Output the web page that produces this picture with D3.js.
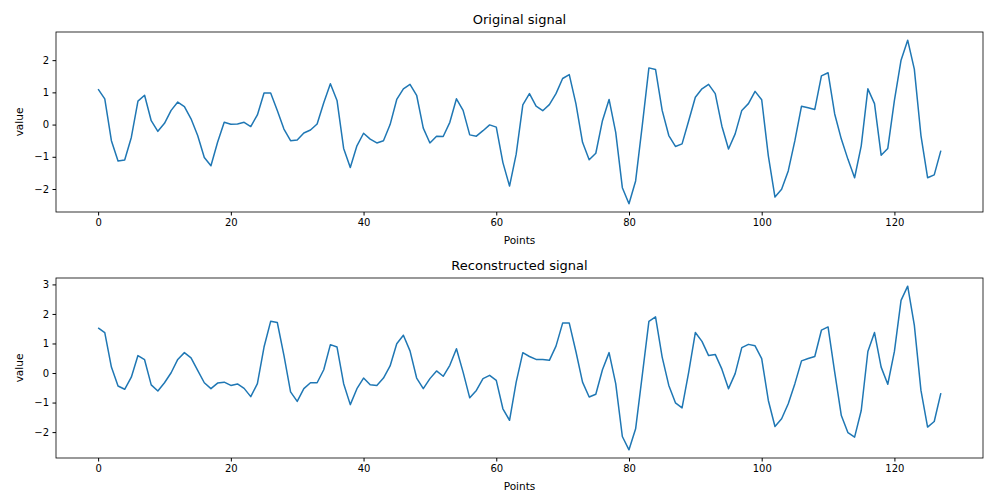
<!DOCTYPE html>
<html>
<head>
<meta charset="utf-8">
<script src="https://cdn.jsdelivr.net/npm/d3@7"></script>
<style>
  body { margin: 0; background: #fff; }
  svg { display: block; font-family: "DejaVu Sans", sans-serif; }
</style>
</head>
<body>
<div id="chart"></div>
<script>
// Values
const original = [
  1.10, 0.80, -0.50, -1.13, -1.10, -0.40, 0.73, 0.91, 0.12, -0.21,
  0.04, 0.44, 0.70, 0.56, 0.18, -0.34, -1.02, -1.28, -0.55, 0.07,
  0.01, 0.02, 0.07, -0.06, 0.30, 0.98, 0.98, 0.44, -0.14, -0.50,
  -0.48, -0.26, -0.17, 0.02, 0.68, 1.27, 0.75, -0.74, -1.33, -0.66,
  -0.27, -0.45, -0.57, -0.50, 0.00, 0.78, 1.11, 1.25, 0.91, -0.11,
  -0.57, -0.36, -0.37, 0.07, 0.80, 0.44, -0.32, -0.36, -0.19, -0.01,
  -0.08, -1.18, -1.91, -0.92, 0.61, 0.96, 0.57, 0.43, 0.62, 0.96,
  1.43, 1.55, 0.65, -0.55, -1.09, -0.89, 0.12, 0.78, -0.24, -1.96,
  -2.46, -1.75, -0.03, 1.76, 1.71, 0.44, -0.34, -0.68, -0.60, 0.12,
  0.85, 1.11, 1.25, 0.96, -0.05, -0.76, -0.29, 0.44, 0.65, 1.03,
  0.77, -0.97, -2.25, -2.01, -1.44, -0.50, 0.57, 0.52, 0.47, 1.51,
  1.61, 0.33, -0.45, -1.08, -1.65, -0.66, 1.11, 0.65, -0.95, -0.74,
  0.75, 2.00, 2.62, 1.72, -0.34, -1.65, -1.56, -0.81
];

const reconstructed = [
  1.53, 1.37, 0.20, -0.44, -0.55, -0.14, 0.59, 0.45, -0.40, -0.61,
  -0.33, 0.01, 0.46, 0.69, 0.51, 0.09, -0.33, -0.53, -0.34, -0.31,
  -0.42, -0.37, -0.52, -0.80, -0.36, 0.88, 1.75, 1.71, 0.60, -0.64,
  -0.96, -0.53, -0.33, -0.33, 0.11, 0.96, 0.88, -0.36, -1.07, -0.53,
  -0.17, -0.40, -0.42, -0.17, 0.24, 0.99, 1.28, 0.75, -0.17, -0.53,
  -0.19, 0.07, -0.11, 0.26, 0.82, 0.03, -0.84, -0.59, -0.19, -0.08,
  -0.25, -1.21, -1.60, -0.31, 0.69, 0.56, 0.46, 0.46, 0.43, 0.91,
  1.69, 1.69, 0.73, -0.31, -0.81, -0.72, 0.11, 0.69, -0.36, -2.15,
  -2.60, -1.89, -0.08, 1.75, 1.90, 0.54, -0.42, -1.01, -1.18, 0.03,
  1.37, 1.07, 0.59, 0.63, 0.13, -0.53, -0.02, 0.86, 0.97, 0.92,
  0.49, -0.93, -1.81, -1.55, -1.04, -0.36, 0.41, 0.49, 0.56, 1.45,
  1.56, 0.03, -1.44, -2.02, -2.17, -1.27, 0.73, 1.37, 0.20, -0.38,
  0.73, 2.46, 2.94, 1.62, -0.59, -1.83, -1.64, -0.68
];

const xTicks = [0, 20, 40, 60, 80, 100, 120];
const yTicksTop = [-2, -1, 0, 1, 2];
const yTicksBottom = [-2, -1, 0, 1, 2, 3];

const width = 984;
const height = 493;

const svg = d3.select('#chart')
  .append('svg')
  .attr('width', width)
  .attr('height', height);

// Draw one subplot
function drawPanel(values, yTicks, title, top) {
  const left = 56;
  const right = 983;
  const panelHeight = 180;

  const xMax = values.length - 1;
  const x = d3.scaleLinear()
    .domain([-xMax * 0.05, xMax * 1.05])
    .range([left, right]);

  const [lo, hi] = d3.extent(values);
  const pad = (hi - lo) * 0.05;
  const y = d3.scaleLinear()
    .domain([lo - pad, hi + pad])
    .range([top + panelHeight, top]);

  const g = svg.append('g');

  // X axis
  g.append('g')
    .attr('transform', `translate(0, ${top + panelHeight})`)
    .call(d3.axisBottom(x).tickValues(xTicks).tickSize(3.5).tickPadding(3.5).tickSizeOuter(0))
    .call(a => a.select('.domain').remove())
    .call(a => a.selectAll('text').attr('font-size', 10).attr('fill', '#000').attr('font-family', 'DejaVu Sans'));

  // Y axis
  g.append('g')
    .attr('transform', `translate(${left}, 0)`)
    .call(d3.axisLeft(y).tickValues(yTicks).tickSize(3.5).tickPadding(3.5).tickFormat(d => d < 0 ? '\u2212' + Math.abs(d) : d))
    .call(a => a.select('.domain').remove())
    .call(a => a.selectAll('text').attr('font-size', 10).attr('fill', '#000').attr('font-family', 'DejaVu Sans'));

  // Line
  const line = d3.line()
    .x((d, i) => x(i))
    .y(d => y(d));

  g.append('path')
    .datum(values)
    .attr('fill', 'none')
    .attr('stroke', '#1f77b4')
    .attr('stroke-width', 1.5)
    .attr('stroke-linejoin', 'round')
    .attr('d', line);

  // Frame
  g.append('rect')
    .attr('x', left)
    .attr('y', top)
    .attr('width', right - left)
    .attr('height', panelHeight)
    .attr('fill', 'none')
    .attr('stroke', '#000')
    .attr('stroke-width', 0.8);

  // Title
  g.append('text')
    .attr('x', (left + right) / 2)
    .attr('y', top - 8)
    .attr('text-anchor', 'middle')
    .attr('font-size', 13)
    .text(title);

  // Axis labels
  g.append('text')
    .attr('x', (left + right) / 2)
    .attr('y', top + panelHeight + 32)
    .attr('text-anchor', 'middle')
    .attr('font-size', 10.5)
    .text('Points');

  g.append('text')
    .attr('transform', `translate(23, ${top + panelHeight / 2}) rotate(-90)`)
    .attr('text-anchor', 'middle')
    .attr('font-size', 10.5)
    .text('value');
}

drawPanel(original, yTicksTop, 'Original signal', 32);
drawPanel(reconstructed, yTicksBottom, 'Reconstructed signal', 278);
</script>
</body>
</html>
